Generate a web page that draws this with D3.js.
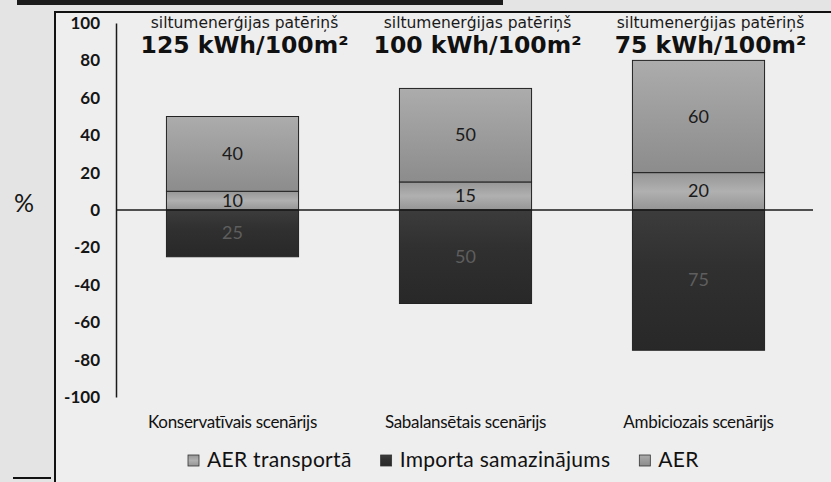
<!DOCTYPE html>
<meta charset="utf-8">

<style>
  body {
    margin: 0;
    background: #e8e8e8;
  }

  .tick text {
    font: bold 17px Lato, sans-serif;
    fill: #151515;
  }

  .category {
    font: 17px Lato, sans-serif;
    letter-spacing: -0.3px;
    fill: #111;
  }

  .legend text {
    font: 21px Lato, sans-serif;
    letter-spacing: 0.3px;
    fill: #111;
  }

  .frame {
    fill: none;
    stroke: #111;
    stroke-width: 2;
  }
</style>

<body>
<svg id="chart" width="831" height="482"></svg>
<script src="https://d3js.org/d3.v7.min.js"></script>
<script>

  // values
  const categories = ["Konservatīvais scenārijs", "Sabalansētais scenārijs", "Ambiciozais scenārijs"];
  const consumption = ["125 kWh/100m²", "100 kWh/100m²", "75 kWh/100m²"];
  const aerTransport = [10, 15, 20];
  const aer = [40, 50, 60];
  const importReduction = [-25, -50, -75];
  const yTicks = [100, 80, 60, 40, 20, 0, -20, -40, -60, -80, -100];
  const seriesKeys = ["transport", "aer", "import"];
  const seriesNames = ["AER transportā", "AER", "Importa samazinājums"];
  const legendOrder = ["transport", "import", "aer"];

  var svg = d3.select("svg#chart"),
    width = +svg.attr("width"),
    height = +svg.attr("height");

  // paper background + framed panel
  svg.append("rect").attr("width", width).attr("height", height).attr("fill", "#e4e4e4");
  svg.append("rect").attr("x", 17).attr("y", 0).attr("width", 486).attr("height", 5).attr("fill", "#1c1c1c");
  svg.append("rect")
    .attr("x", 55).attr("y", 12)
    .attr("width", width - 55).attr("height", height - 12)
    .attr("fill", "#eeeeee");
  svg.append("path")
    .attr("class", "frame")
    .attr("d", `M55,${height} V12 H${width}`);
  svg.append("path")
    .attr("class", "frame")
    .attr("d", "M13,478 H51");

  const defs = svg.append("defs");
  function gradient(id, stops) {
    const g = defs.append("linearGradient").attr("id", id)
      .attr("x1", 0).attr("y1", 0).attr("x2", 0).attr("y2", 1);
    stops.forEach(([o, c]) => g.append("stop").attr("offset", o).attr("stop-color", c));
  }
  gradient("g-aer", [[0, "#acacac"], [0.5, "#9c9c9c"], [1, "#8c8c8c"]]);
  gradient("g-transport", [[0, "#969696"], [0.5, "#b0b0b0"], [1, "#959595"]]);
  gradient("g-import", [[0, "#3c3c3c"], [0.4, "#303030"], [1, "#282828"]]);
  const fills = { transport: "url(#g-transport)", aer: "url(#g-aer)", import: "url(#g-import)" };
  const labelColor = { transport: "#1a1a1a", aer: "#1a1a1a", import: "#5e5e5e" };

  const y = d3.scaleLinear().domain([-100, 100]).range([397, 23]);
  const x = d3.scaleBand()
    .domain(categories)
    .range([116, 815])
    .paddingInner(0.433)
    .paddingOuter(0.2165);

  const rows = categories.map((c, i) => ({
    category: c,
    transport: aerTransport[i],
    aer: aer[i],
    import: importReduction[i]
  }));

  const stacked = d3.stack()
    .keys(seriesKeys)
    .offset(d3.stackOffsetDiverging)(rows);

  // y axis
  const axis = svg.append("g")
    .attr("transform", "translate(116,0)")
    .call(d3.axisLeft(y).tickValues(yTicks).tickSize(0).tickPadding(16).tickFormat(d => String(d)));
  axis.select(".domain").attr("stroke", "#1a1a1a").attr("stroke-width", 1.5);

  svg.append("text")
    .attr("x", 24).attr("y", 212)
    .attr("text-anchor", "middle")
    .style("font", "25px Lato, sans-serif")
    .attr("fill", "#151515")
    .text("%");

  // bars
  stacked.forEach(layer => {
    const key = layer.key;
    const g = svg.append("g");
    g.selectAll("rect")
      .data(layer)
      .enter().append("rect")
      .attr("x", d => x(d.data.category))
      .attr("width", x.bandwidth())
      .attr("y", d => y(Math.max(d[0], d[1])))
      .attr("height", d => Math.abs(y(d[0]) - y(d[1])))
      .attr("fill", fills[key])
      .attr("stroke", "#222")
      .attr("stroke-width", 1);

    g.selectAll("text")
      .data(layer)
      .enter().append("text")
      .attr("x", d => x(d.data.category) + x.bandwidth() / 2)
      .attr("y", d => y((d[0] + d[1]) / 2) + 6)
      .attr("text-anchor", "middle")
      .style("font", "18px Lato, sans-serif")
      .attr("fill", labelColor[key])
      .text(d => Math.abs(d.data[key]));
  });

  // zero line
  svg.append("line")
    .attr("x1", 116).attr("x2", 813)
    .attr("y1", y(0)).attr("y2", y(0))
    .attr("stroke", "#1a1a1a").attr("stroke-width", 1.3);

  // titles over each bar
  const titles = svg.append("g").selectAll("g")
    .data(categories)
    .enter().append("g")
    .attr("transform", d => `translate(${x(d) + x.bandwidth() / 2 + 12},0)`);
  titles.append("text")
    .attr("y", 28)
    .attr("text-anchor", "middle")
    .style("font", "15.5px 'DejaVu Sans', sans-serif")
    .attr("fill", "#1a1a1a")
    .text("siltumenerģijas patēriņš");
  titles.append("text")
    .attr("y", 53)
    .attr("text-anchor", "middle")
    .style("font", "bold 23.5px 'DejaVu Sans', sans-serif")
    .attr("fill", "#111")
    .text((d, i) => consumption[i]);

  // category labels
  svg.append("g").selectAll("text")
    .data(categories)
    .enter().append("text")
    .attr("class", "category")
    .attr("x", d => x(d) + x.bandwidth() / 2)
    .attr("y", 428)
    .attr("text-anchor", "middle")
    .text(d => d);

  // legend
  const legend = svg.append("g").attr("class", "legend");
  let lx = 188;
  legendOrder.forEach(key => {
    const name = seriesNames[seriesKeys.indexOf(key)];
    legend.append("rect")
      .attr("x", lx).attr("y", 455)
      .attr("width", 11).attr("height", 11)
      .attr("fill", fills[key])
      .attr("stroke", "#333").attr("stroke-width", 0.8);
    const t = legend.append("text")
      .attr("x", lx + 19).attr("y", 467)
      .text(name);
    lx += 19 + t.node().getComputedTextLength() + 29;
  });

</script>
</body>
